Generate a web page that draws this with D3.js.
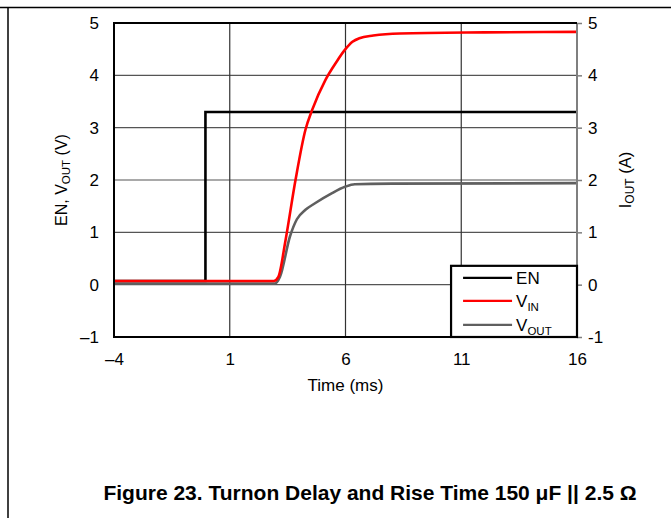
<!DOCTYPE html>
<html>
<head>
<meta charset="utf-8">
<script src="https://cdn.jsdelivr.net/npm/d3@7"></script>
<style>
  body { margin: 0; background: #fff; }
  text { font-family: "Liberation Sans", Arial, sans-serif; fill: #000; }
</style>
</head>
<body>
<div class="chart"></div>
<script>
// series data (time in ms, value in V)
const enData = [[-4, 0.07], [-0.05, 0.07], [-0.05, 3.3], [16, 3.3]]
const vinData = [[-4, 0.07], [2.9, 0.07], [3.1, 0.15], [3.41, 0.85], [3.84, 2.0], [4.27, 2.96],
  [4.56, 3.34], [5.13, 3.91], [5.6, 4.25], [5.98, 4.49], [6.3, 4.64], [6.6, 4.71],
  [7.2, 4.76], [8.35, 4.8], [12, 4.82], [16, 4.83]]
const voutData = [[-4, 0.02], [2.95, 0.02], [3.17, 0.15], [3.6, 0.92], [3.9, 1.25], [4.27, 1.43],
  [4.7, 1.56], [5.42, 1.75], [5.98, 1.87], [6.4, 1.92], [8, 1.93], [16, 1.94]]
const xTicks = [-4, 1, 6, 11, 16]
const xTickLabels = ['\u20134', '1', '6', '11', '16']
const yTicks = [-1, 0, 1, 2, 3, 4, 5]
const yLeftLabels = ['\u20131', '0', '1', '2', '3', '4', '5']
const yRightLabels = ['-1', '0', '1', '2', '3', '4', '5']

const fullWidth = 671, fullHeight = 518
const margin = { top: 23, right: 94, bottom: 181, left: 114 }
const width = fullWidth - margin.left - margin.right
const height = fullHeight - margin.top - margin.bottom
const font = '"Liberation Sans", Arial, sans-serif'

const svg = d3.select('.chart').append('svg')
  .attr('width', fullWidth)
  .attr('height', fullHeight)

// page frame
svg.append('line').attr('x1', 0).attr('x2', fullWidth).attr('y1', 7.5).attr('y2', 7.5)
  .style('stroke', '#000').style('stroke-width', 1.5)
svg.append('line').attr('x1', 8).attr('x2', 8).attr('y1', 7).attr('y2', fullHeight)
  .style('stroke', '#000').style('stroke-width', 1.5)

const g = svg.append('g').attr('transform', `translate(${margin.left}, ${margin.top})`)

const x = d3.scaleLinear().domain([-4, 16]).range([0, width])
const y = d3.scaleLinear().domain([-1, 5]).range([height, 0])

// grid
g.selectAll('.hgrid').data(yTicks.slice(1, -1)).enter().append('line')
  .attr('x1', 0).attr('x2', width)
  .attr('y1', d => y(d)).attr('y2', d => y(d))
  .style('stroke', '#555').style('stroke-width', 1.2)
g.selectAll('.vgrid').data(xTicks.slice(1, -1)).enter().append('line')
  .attr('y1', 0).attr('y2', height)
  .attr('x1', d => x(d)).attr('x2', d => x(d))
  .style('stroke', '#333').style('stroke-width', 1.2)

// lines
const line = d3.line().x(d => x(d[0])).y(d => y(d[1]))
const smooth = d3.line().x(d => x(d[0])).y(d => y(d[1])).curve(d3.curveMonotoneX)

g.append('path').datum(enData).attr('d', line)
  .style('fill', 'none').style('stroke', '#000').style('stroke-width', 2.6)
g.append('path').datum(voutData).attr('d', smooth)
  .style('fill', 'none').style('stroke', '#5f5f5f').style('stroke-width', 2.6)
g.append('path').datum(vinData).attr('d', smooth)
  .style('fill', 'none').style('stroke', '#ff0000').style('stroke-width', 2.6)

// frame of plot
g.append('line').attr('x1', width).attr('x2', width).attr('y1', 0).attr('y2', height)
  .style('stroke', '#7f7f7f').style('stroke-width', 2)
g.append('line').attr('x1', 0).attr('x2', width).attr('y1', 0).attr('y2', 0)
  .style('stroke', '#000').style('stroke-width', 2)
g.append('line').attr('x1', 0).attr('x2', 0).attr('y1', -1).attr('y2', height + 1)
  .style('stroke', '#000').style('stroke-width', 2)
g.append('line').attr('x1', 0).attr('x2', width + 1).attr('y1', height).attr('y2', height)
  .style('stroke', '#000').style('stroke-width', 2)

// axes
const leftAxis = d3.axisLeft(y).tickValues(yTicks).tickSize(0).tickPadding(15)
  .tickFormat((d, i) => yLeftLabels[i])
const rightAxis = d3.axisRight(y).tickValues(yTicks).tickSize(5).tickPadding(6)
  .tickFormat((d, i) => yRightLabels[i])
const bottomAxis = d3.axisBottom(x).tickValues(xTicks).tickSize(0).tickPadding(16)
  .tickFormat((d, i) => xTickLabels[i])

const gl = g.append('g').call(leftAxis)
const gr = g.append('g').attr('transform', `translate(${width}, 0)`).call(rightAxis)
const gb = g.append('g').attr('transform', `translate(0, ${height})`).call(bottomAxis)
;[gl, gr, gb].forEach(a => {
  a.attr('font-size', 17).attr('font-family', font)
  a.select('.domain').remove()
})
gr.selectAll('.tick line').style('stroke', '#7f7f7f').style('stroke-width', 1.5)

// axis titles
const lt = svg.append('text')
  .attr('transform', `translate(67, ${margin.top + y(2)}) rotate(-90)`)
  .attr('text-anchor', 'middle')
  .attr('font-size', 16)
lt.append('tspan').text('EN, V')
lt.append('tspan').text('OUT').attr('font-size', 11.5).attr('dy', 3)
lt.append('tspan').text(' (V)').attr('dy', -3)

const rt = svg.append('text')
  .attr('transform', `translate(631, ${margin.top + y(2)}) rotate(-90)`)
  .attr('text-anchor', 'middle')
  .attr('font-size', 16.5)
rt.append('tspan').text('I')
rt.append('tspan').text('OUT').attr('font-size', 12).attr('dy', 3)
rt.append('tspan').text(' (A)').attr('dy', -3)

svg.append('text')
  .attr('x', margin.left + x(6)).attr('y', 391)
  .attr('text-anchor', 'middle')
  .attr('font-size', 17)
  .text('Time (ms)')

// legend
const legend = [
  { name: 'EN', sub: '', color: '#000' },
  { name: 'V', sub: 'IN', color: '#ff0000' },
  { name: 'V', sub: 'OUT', color: '#5f5f5f' }
]
const lg = g.append('g').attr('transform', `translate(${x(10.56)}, ${y(0.36)})`)
lg.append('rect').attr('x', 0).attr('y', 0).attr('width', x(16) - x(10.56)).attr('height', y(-1) - y(0.36))
  .style('fill', '#fff').style('stroke', '#000').style('stroke-width', 2.2)
const rowY = [0.13, -0.31, -0.77].map(v => y(v) - y(0.36))
legend.forEach((d, i) => {
  lg.append('line').attr('x1', 12).attr('x2', 61).attr('y1', rowY[i]).attr('y2', rowY[i])
    .style('stroke', d.color).style('stroke-width', 2.2)
  const t = lg.append('text').attr('x', 65).attr('y', rowY[i] + 6).attr('font-size', 17)
  t.append('tspan').text(d.name)
  if (d.sub) t.append('tspan').text(d.sub).attr('font-size', 11.5).attr('dy', 4)
})

// caption
svg.append('text')
  .attr('x', 370).attr('y', 500)
  .attr('text-anchor', 'middle')
  .attr('font-size', 21).attr('font-weight', 'bold')
  .text('Figure 23. Turnon Delay and Rise Time 150 \u03bcF || 2.5 \u03a9')
</script>
</body>
</html>
